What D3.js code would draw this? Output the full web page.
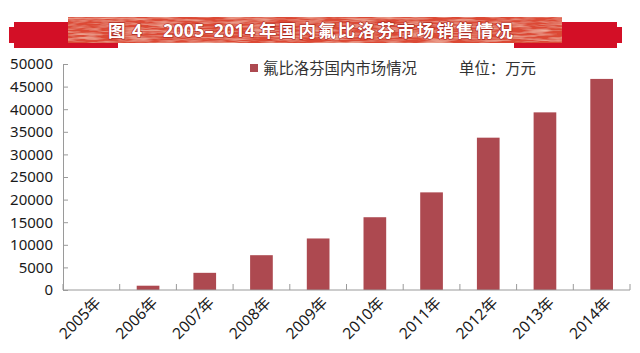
<!DOCTYPE html>
<html>
<head>
<meta charset="utf-8">
<script src="https://cdn.jsdelivr.net/npm/d3@7"></script>
<style>
    body { margin: 0; background: #fff; }
    #chart { width: 640px; height: 353px; }
    text { font-family: "Noto Sans", "Noto Sans CJK SC", sans-serif; }
</style>
</head>
<body>
<div id="chart"></div>
<script>
// data (unit: 万元)
const years = ['2005年', '2006年', '2007年', '2008年', '2009年', '2010年', '2011年', '2012年', '2013年', '2014年'];
const sales = [0, 950, 3800, 7700, 11400, 16100, 21600, 33700, 39300, 46700];
const yTicks = [0, 5000, 10000, 15000, 20000, 25000, 30000, 35000, 40000, 45000, 50000];
const seriesName = '氟比洛芬国内市场情况';
const unitLabel = '单位：万元';
// title pieces: figure label, figure no., year range, caption
const titleParts = ['图', '4', '2005–2014', '年国内氟比洛芬市场销售情况'];
const titleX = [108, 132, 163, 259];
const titleLen = [null, null, 92, 254];

const W = 640, H = 353;
const barColor = '#ad4950';
const axisColor = '#9a9a9a';

const svg = d3.select('#chart')
    .append('svg')
    .attr('width', W)
    .attr('height', H);

// ---- title banner ----
const defs = svg.append('defs');
const f = defs.append('filter').attr('id', 'grain')
    .attr('x', 0).attr('y', 0).attr('width', '100%').attr('height', '100%');
f.append('feTurbulence')
    .attr('type', 'fractalNoise')
    .attr('baseFrequency', '0.04 0.5')
    .attr('numOctaves', 3)
    .attr('seed', 4)
    .attr('result', 'noise');
f.append('feColorMatrix')
    .attr('in', 'noise')
    .attr('type', 'matrix')
    .attr('values', '0 0 0 0 1  0 0 0 0 0.75  0 0 0 0 0.6  0 0 0 1.1 -0.45')
    .attr('result', 'spots');
f.append('feComposite').attr('in', 'spots').attr('in2', 'SourceGraphic').attr('operator', 'atop');

const flag = (x0, x1, side) => {
    const y0 = 22, y1 = 48, n = 5;
    if (side === 'left') {
        return `M${x0 + n},${y0} L${x1},${y0} L${x1},${y1} L${x0 + n},${y1} L${x0 + n},${y1 - n} L${x0},${y1 - n} L${x0},${y0 + n} L${x0 + n},${y0 + n} Z`;
    }
    return `M${x0},${y0} L${x1 - n},${y0} L${x1 - n},${y0 + n} L${x1},${y0 + n} L${x1},${y1 - n} L${x1 - n},${y1 - n} L${x1 - n},${y1} L${x0},${y1} Z`;
};
svg.append('path').attr('d', flag(9, 118, 'left')).attr('fill', '#d30f26');
svg.append('path').attr('d', flag(514, 622, 'right')).attr('fill', '#d30f26');

svg.append('rect')
    .attr('x', 68).attr('y', 17).attr('width', 494).attr('height', 26)
    .attr('fill', '#dc4a34')
    .attr('filter', 'url(#grain)');

svg.selectAll('.title-part')
    .data(titleParts)
    .enter()
    .append('text')
    .attr('class', 'title-part')
    .attr('x', (d, i) => titleX[i])
    .attr('y', 30.5)
    .attr('dy', '0.36em')
    .attr('textLength', (d, i) => titleLen[i])
    .attr('lengthAdjust', (d, i) => titleLen[i] ? 'spacing' : null)
    .style('font-size', '17.5px')
    .style('font-weight', 'bold')
    .style('fill', '#fff')
    .style('paint-order', 'stroke')
    .style('stroke', '#a8241c')
    .style('stroke-width', '1.2px')
    .text(d => d);

// ---- plot ----
const margin = { left: 63, right: 10, top: 64, bottom: 63 };
const plotBottom = H - margin.bottom;

const x = d3.scaleBand()
    .domain(years)
    .range([margin.left, W - margin.right])
    .paddingInner(0.6)
    .paddingOuter(0.3);

const y = d3.scaleLinear()
    .domain([0, 50000])
    .range([plotBottom, margin.top]);

// y axis with inside ticks
const yAxis = svg.append('g')
    .attr('transform', `translate(${margin.left},0)`)
    .call(d3.axisLeft(y)
        .tickValues(yTicks)
        .tickFormat(d3.format('d'))
        .tickSizeInner(-5)
        .tickSizeOuter(0)
        .tickPadding(10));
yAxis.select('.domain').attr('stroke', axisColor);
yAxis.selectAll('.tick line').attr('stroke', axisColor);
yAxis.selectAll('.tick text')
    .style('font-size', '15px')
    .style('fill', '#1a1a1a');

// bars
svg.selectAll('.bar')
    .data(years)
    .enter()
    .append('rect')
    .attr('class', 'bar')
    .attr('x', d => x(d))
    .attr('y', (d, i) => y(sales[i]))
    .attr('width', x.bandwidth())
    .attr('height', (d, i) => plotBottom - y(sales[i]))
    .attr('fill', barColor);

// x axis line and category boundary ticks (pointing up)
svg.append('line')
    .attr('x1', margin.left).attr('x2', W - margin.right)
    .attr('y1', plotBottom).attr('y2', plotBottom)
    .attr('stroke', axisColor);

const step = x.step();
const bounds = years.map(d => x(d) - step * 0.3).concat([x(years[years.length - 1]) + x.bandwidth() + step * 0.3]);
svg.selectAll('.xtick')
    .data(bounds)
    .enter()
    .append('line')
    .attr('x1', d => d).attr('x2', d => d)
    .attr('y1', plotBottom).attr('y2', plotBottom - 6)
    .attr('stroke', axisColor);

// rotated year labels
svg.selectAll('.xlabel')
    .data(years)
    .enter()
    .append('text')
    .attr('transform', d => `translate(${x(d) + x.bandwidth() / 2 + 6.5},${plotBottom + 10}) rotate(-45)`)
    .attr('text-anchor', 'end')
    .attr('dy', '0.35em')
    .style('font-size', '15.5px')
    .style('fill', '#1a1a1a')
    .text(d => d);

// legend
svg.append('rect')
    .attr('x', 250).attr('y', 64).attr('width', 8).attr('height', 8)
    .attr('fill', barColor);
svg.append('text')
    .attr('x', 263).attr('y', 68)
    .attr('dy', '0.36em')
    .style('font-size', '15.4px')
    .style('fill', '#333')
    .text(seriesName);
svg.append('text')
    .attr('x', 459).attr('y', 68)
    .attr('dy', '0.36em')
    .style('font-size', '15.4px')
    .style('fill', '#333')
    .text(unitLabel);
</script>
</body>
</html>
